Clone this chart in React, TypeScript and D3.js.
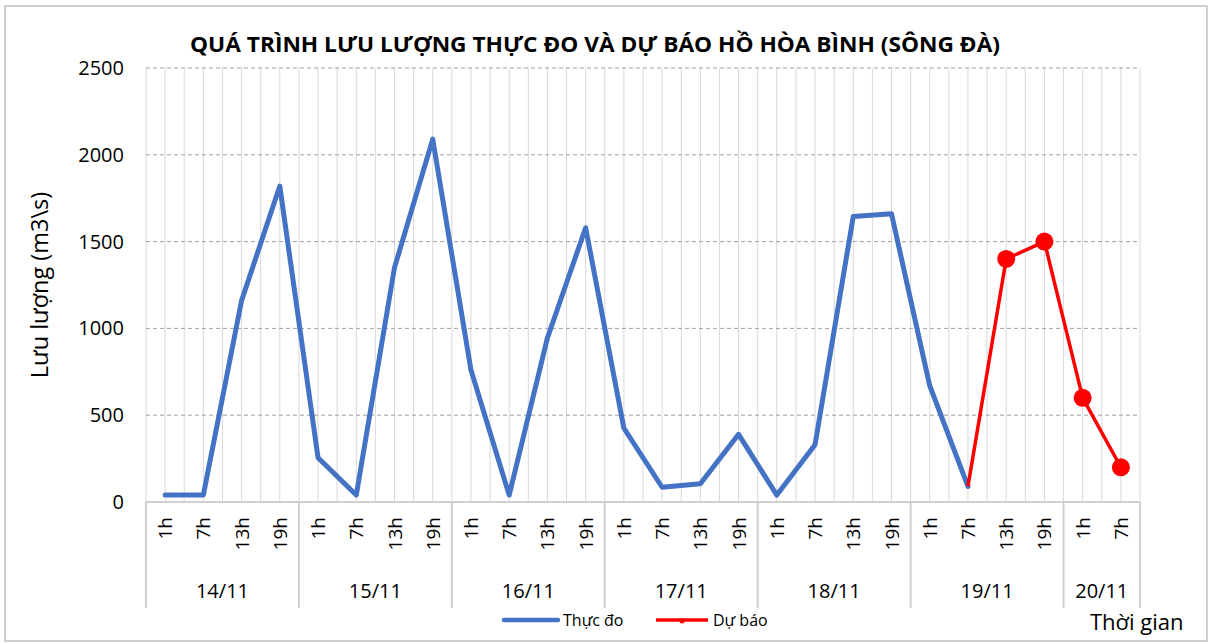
import * as d3 from "d3";
import React from "react";

const days = ["14/11", "15/11", "16/11", "17/11", "18/11", "19/11", "20/11"];
const hoursPerDay = [
  ["1h", "7h", "13h", "19h"],
  ["1h", "7h", "13h", "19h"],
  ["1h", "7h", "13h", "19h"],
  ["1h", "7h", "13h", "19h"],
  ["1h", "7h", "13h", "19h"],
  ["1h", "7h", "13h", "19h"],
  ["1h", "7h"],
];
// Thực đo (observed), 14/11 1h .. 19/11 7h
const observed = [
  40, 40, 1160, 1820,
  255, 40, 1350, 2090,
  760, 40, 945, 1580,
  425, 85, 105, 390,
  40, 330, 1645, 1660,
  670, 90,
];
// Dự báo (forecast), 19/11 7h .. 20/11 7h
const forecast = [90, 1400, 1500, 600, 200];
const forecastStart = 21;
const yTicks = [0, 500, 1000, 1500, 2000, 2500];

const FONT = "'Open Sans', 'Noto Sans', sans-serif";

export default function App() {
  const W = 1212;
  const H = 644;
  const left = 146;
  const right = 1140;
  const top = 68;
  const bottom = 502;

  const cats: { key: string; day: number; label: string }[] = [];
  hoursPerDay.forEach((hs, d) =>
    hs.forEach((h) => cats.push({ key: `${d}-${h}`, day: d, label: h }))
  );

  const x = d3
    .scaleBand<string>()
    .domain(cats.map((c) => c.key))
    .range([left, right])
    .padding(0);
  const cx = (i: number) => (x(cats[i].key) as number) + x.bandwidth() / 2;
  const y = d3.scaleLinear().domain([0, 2500]).range([bottom, top]);

  const line = d3
    .line<[number, number]>()
    .x((d) => d[0])
    .y((d) => d[1]);

  const obsPts: [number, number][] = observed.map((v, i) => [cx(i), y(v)]);
  const fcPts: [number, number][] = forecast.map((v, i) => [
    cx(forecastStart + i),
    y(v),
  ]);

  // half-category vertical gridlines
  const vGrid: number[] = [];
  cats.forEach((c) => {
    const x0 = x(c.key) as number;
    vGrid.push(x0, x0 + x.bandwidth() / 2);
  });
  vGrid.push(right);

  // day group boundaries
  let idx = 0;
  const groups = hoursPerDay.map((hs, d) => {
    const start = x(cats[idx].key) as number;
    idx += hs.length;
    const end = idx < cats.length ? (x(cats[idx].key) as number) : right;
    return { label: days[d], start, end };
  });

  return (
    <svg
      width={W}
      height={H}
      style={{ position: "absolute", left: 0, top: 0, background: "#fff" }}
    >
      <rect x={5} y={6} width={1202} height={635} fill="#fff" stroke="#d0d0d0" strokeWidth={2} />
      <text
        x={595}
        y={52}
        textAnchor="middle"
        fontFamily={FONT}
        fontWeight="bold"
        fontSize={21}
        textLength={810}
        lengthAdjust="spacingAndGlyphs"
        fill="#000"
      >
        QUÁ TRÌNH LƯU LƯỢNG THỰC ĐO VÀ DỰ BÁO HỒ HÒA BÌNH (SÔNG ĐÀ)
      </text>

      {vGrid.map((gx, i) => (
        <line key={`v${i}`} x1={gx} x2={gx} y1={top} y2={bottom} stroke="#d9d9d9" strokeWidth={1} />
      ))}
      {yTicks.filter((t) => t > 0).map((t) => (
        <line
          key={`h${t}`}
          x1={left}
          x2={right}
          y1={y(t)}
          y2={y(t)}
          stroke="#a0a0a0"
          strokeWidth={1}
          strokeDasharray="4,3"
        />
      ))}
      {yTicks.map((t) => (
        <text
          key={`yt${t}`}
          x={124}
          y={y(t) + 7}
          textAnchor="end"
          fontFamily={FONT}
          fontSize={20}
          fill="#000"
        >
          {t}
        </text>
      ))}
      <text
        transform={`translate(48,${(top + bottom) / 2}) rotate(-90)`}
        textAnchor="middle"
        fontFamily={FONT}
        fontSize={23.5}
        fill="#000"
      >
        Lưu lượng (m3\s)
      </text>

      {/* axis line and group separators */}
      <line x1={left} x2={right} y1={bottom} y2={bottom} stroke="#d0d0d0" strokeWidth={2} />
      {groups.map((g, i) => (
        <line key={`gs${i}`} x1={g.start} x2={g.start} y1={bottom} y2={608} stroke="#d0d0d0" strokeWidth={2} />
      ))}
      <line x1={right} x2={right} y1={bottom} y2={608} stroke="#d0d0d0" strokeWidth={2} />
      {cats.map((c, i) => (
        <text
          key={`cl${i}`}
          transform={`translate(${cx(i) + 7},517) rotate(-90)`}
          textAnchor="end"
          fontFamily={FONT}
          fontSize={19}
          fill="#000"
        >
          {c.label}
        </text>
      ))}
      {groups.map((g, i) => (
        <text
          key={`gl${i}`}
          x={(g.start + g.end) / 2}
          y={598}
          textAnchor="middle"
          fontFamily={FONT}
          fontSize={20}
          fill="#000"
        >
          {g.label}
        </text>
      ))}

      <path d={line(obsPts) ?? ""} fill="none" stroke="#4472C4" strokeWidth={5} strokeLinejoin="round" strokeLinecap="round" />
      <path d={line(fcPts) ?? ""} fill="none" stroke="#FF0000" strokeWidth={3.5} strokeLinejoin="round" />
      {fcPts.slice(1).map((p, i) => (
        <circle key={`m${i}`} cx={p[0]} cy={p[1]} r={9} fill="#FF0000" />
      ))}

      {/* legend */}
      <line x1={504} x2={558} y1={620} y2={620} stroke="#4472C4" strokeWidth={4.5} strokeLinecap="round" />
      <text x={563} y={626} fontFamily={FONT} fontSize={16} fill="#000">Thực đo</text>
      <line x1={656} x2={708} y1={620} y2={620} stroke="#FF0000" strokeWidth={3.5} />
      <circle cx={682} cy={621} r={2.5} fill="#FF0000" />
      <text x={713} y={626} fontFamily={FONT} fontSize={16} fill="#000">Dự báo</text>

      <text x={1090} y={630} fontFamily={FONT} fontSize={22} fill="#000">Thời gian</text>
    </svg>
  );
}
